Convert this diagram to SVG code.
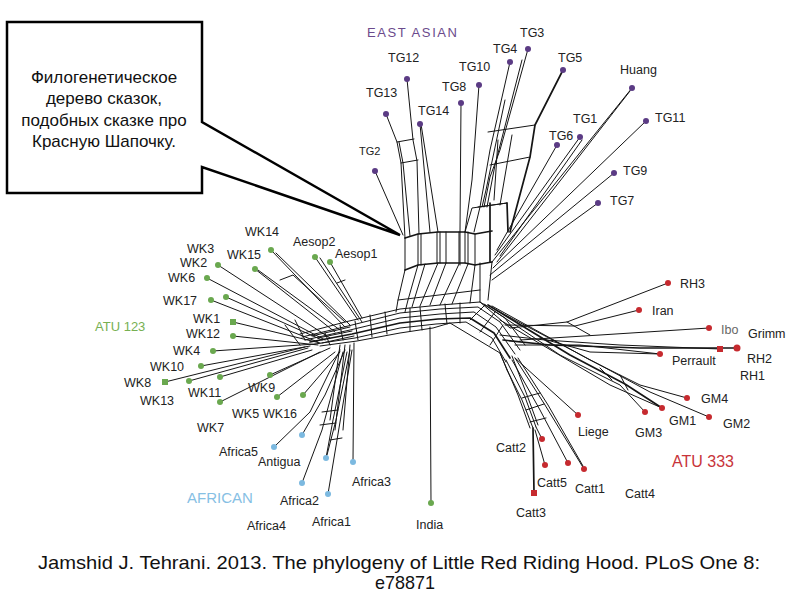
<svg xmlns="http://www.w3.org/2000/svg" width="794" height="595" viewBox="0 0 794 595">
<style>
.e{stroke:#151515;stroke-width:1;fill:none;stroke-linejoin:round;stroke-linecap:round}
.t{stroke-width:1.7}
.l{font-family:"Liberation Sans",Arial,sans-serif;font-size:12.5px;fill:#222}
.p{fill:#5b3b84}.g{fill:#6aa84f}.b{fill:#7cb9e0}.r{fill:#c62a2f}
.cap{font-family:"Liberation Sans",Arial,sans-serif;font-size:19px;fill:#111}
.co{font-family:"Liberation Sans",Arial,sans-serif;font-size:17px;fill:#111;text-anchor:middle}
</style>
<rect width="794" height="595" fill="#fff"/>
<g id="connectors">
<!-- central arch band -->
<path class="e" d="M300,334 L345,322 L400,309 L440,305 L480,302 L505,318 L525,345"/>
<path class="e" d="M302,337 L348,326 L400,313 L440,309 L478,307 L500,322 L520,350"/>
<path class="e" d="M305,340 L350,330 L400,318 L440,314 L474,312 L496,327 L515,354"/>
<path class="e t" d="M310,342 L352,334 L400,323 L438,319 L470,318 L494,333 L510,358"/>
<path class="e" d="M315,344 L355,338 L400,328 L436,324 L466,322 L492,338 L506,362"/>
<path class="e" d="M320,346 L357,341 L400,333 L433,328 L450,323 L500,353 L507,370"/>
<path class="e" d="M312,336 L350,327 M318,338 L352,331 M322,343 L354,336"/>
<path class="e" d="M370,315 L372,337 M385,312 L387,334 M410,308 L410,331 M420,307 L422,330 M445,304 L447,324 M460,303 L460,323 M485,305 L470,320 M495,312 L480,332 M503,325 L490,345 M325,333 L330,345 M340,325 L343,340 M355,321 L358,340"/>
<!-- India -->
<path class="e" d="M430,327 L431,503"/>
<!-- East Asian box -->
<path class="e t" d="M405,238 L418,234 L438,232 L465,232 L475,234 L492,231"/>
<path class="e t" d="M405,270 L418,265 L438,263 L465,263 L475,265 L492,262"/>
<path class="e" d="M405,238 L405,270 M418,234 L418,265 M421,234 L421,265 M437,232 L437,263 M440,232 L440,263 M446,232 L446,263 M459,232 L459,264 M465,232 L465,263 M468,232 L468,264 M475,234 L475,265"/>
<path class="e t" d="M490,203 L490,262 M507,203 L508,232"/>
<path class="e" d="M465,232 L472,208 L507,203 M478,207 L507,203"/>
<!-- EA upper right ladder -->
<path class="e" d="M479,85 L472,180 L468,210 L465,232"/>
<path class="e" d="M510,62 L490,150 L480,207 L474,232"/>
<path class="e" d="M528,49 L500,150 L490,177 L484,207"/>
<path class="e" d="M522,60 L495,165 L487,207"/>
<path class="e" d="M505,100 L486,190 L482,207"/>
<path class="e t" d="M563,70 L535,125 L530,157 L510,232"/>
<path class="e" d="M488,132 L535,125 M490,165 L530,157 M498,140 L494,200 M512,135 L500,205"/>
<!-- EA left arm -->
<path class="e" d="M386,114 L397,142 L401,163 L405,238"/>
<path class="e" d="M407,79 L413,140 L417,161 L419,234"/>
<path class="e" d="M399,142 L403,163 L410,236"/>
<path class="e" d="M420,124 L430,232 M421,124 L438,232"/>
<path class="e" d="M397,142 L414,139 M401,163 L418,160"/>
<path class="e" d="M375,171 L403,235"/>
<path class="e" d="M461,103 L460,232 M460,232 L460,265"/>
<!-- EA right fan -->
<path class="e" d="M557,145 L497,250"/>
<path class="e" d="M580,137 L495,255 M582,140 L500,256"/>
<path class="e" d="M632,88 L492,262 M630,91 L497,262"/>
<path class="e" d="M646,121 L493,268"/>
<path class="e" d="M614,173 L490,275"/>
<path class="e" d="M598,203 L492,280"/>
<!-- box to band -->
<path class="e" d="M405,270 L398,300 L396,312 M418,265 L408,300 L405,312 M425,264 L412,307 M438,263 L420,306 M446,263 L430,305 M459,264 L440,305 M468,264 L452,304 M475,265 L470,303 M480,263 L480,302 M492,262 L488,300 M398,300 L480,290"/>
<!-- red arm -->
<path class="e" d="M480,302 L510,328 L567,322 L668,283"/>
<path class="e" d="M505,325 L575,326 L639,310 M567,322 L590,335"/>
<path class="e" d="M500,335 L545,340 L620,345 L720,349"/>
<path class="e t" d="M503,340 L550,345 L640,348 L736,348"/>
<path class="e" d="M520,340 L600,335 L709,328"/>
<path class="e" d="M515,345 L580,345 L660,354 M540,338 L590,352 L660,354"/>
<path class="e" d="M484,304 L560,355 L620,385 L645,412"/>
<path class="e t" d="M488,305 L570,355 L625,384 L662,408"/>
<path class="e" d="M492,306 L590,360 L640,385 L687,398"/>
<path class="e" d="M496,310 L600,365 L650,392 L709,417"/>
<path class="e" d="M500,320 L610,385 L662,408 M600,368 L612,380 M620,375 L628,390"/>
<path class="e" d="M515,358 L578,415"/>
<!-- Catt -->
<path class="e" d="M500,353 L518,395 L530,428 M507,370 L522,400 L533,428 M512,356 L527,395 L538,425 M506,360 L525,397 L536,427"/>
<path class="e t" d="M533,428 L534,493"/>
<path class="e" d="M536,427 L542,439 M535,430 L545,465"/>
<path class="e" d="M512,360 L540,410 L568,463"/>
<path class="e" d="M515,358 L545,405 L584,469 M518,358 L548,405 L583,466"/>
<path class="e" d="M522,398 L540,393 M526,410 L544,404 M530,422 L546,418"/>
<!-- WK -->
<path class="e" d="M271,250 L345,327 M276,253 L350,325"/>
<path class="e" d="M255,269 L335,332 M258,270 L340,330 M280,280 L293,275 L345,322"/>
<path class="e" d="M315,257 L358,320 M320,258 L362,322 M330,262 L362,318 M337,283 L345,280"/>
<path class="e" d="M218,265 L330,338 M207,278 L325,340 M226,297 L322,340 M211,300 L318,342 M233,322 L320,343 M233,336 L318,345 M213,351 L315,344 M201,366 L310,346 M165,382 L305,347 M189,381 L308,348 M220,377 L312,350 M220,402 L320,352 M270,375 L330,348 M277,397 L335,352 M303,395 L340,352"/>
<path class="e" d="M285,325 L300,345 M295,320 L305,340"/>
<!-- African -->
<path class="e" d="M274,447 L310,412 L340,350 M302,435 L325,395 L345,350 M326,458 L333,420 L347,352 M327,455 L336,420 L350,350 M353,462 L354,343 M302,483 L322,430 L343,352 M328,494 L337,440 L352,350"/>
<path class="e" d="M322,412 L338,410 M320,425 L336,423 M330,440 L342,438 M340,345 L330,420 M345,345 L335,430 M350,345 L343,430"/>
</g>
<g id="callout">
<path d="M202,122 L202,22 L7,22 L7,193 L202,193 L202,167 L400,235 Z" fill="#fff" stroke="#000" stroke-width="2.5" stroke-linejoin="miter"/>
<text class="co" x="104" y="83">Филогенетическое</text>
<text class="co" x="104" y="104">дерево сказок,</text>
<text class="co" x="104" y="126">подобных сказке про</text>
<text class="co" x="104" y="147">Красную Шапочку.</text>
</g>
<g id="groups">
<text class="l" x="367" y="37" style="fill:#6b4a8c;font-size:13px" textLength="90">EAST ASIAN</text>
<text class="l" x="95" y="331" style="fill:#77b052;font-size:13px">ATU 123</text>
<text class="l" x="187" y="503" style="fill:#86c0e4;font-size:15px">AFRICAN</text>
<text class="l" x="672" y="467" style="fill:#c8343a;font-size:16px">ATU 333</text>
</g>
<g id="TG3"><circle class="p" cx="528" cy="49" r="3"/><text class="l" x="520" y="37">TG3</text></g>
<g id="TG4"><circle class="p" cx="510" cy="62" r="3"/><text class="l" x="493" y="53">TG4</text></g>
<g id="TG5"><circle class="p" cx="563" cy="70" r="3"/><text class="l" x="558" y="62">TG5</text></g>
<g id="TG10"><circle class="p" cx="479" cy="85" r="3"/><text class="l" x="459" y="71">TG10</text></g>
<g id="TG12"><circle class="p" cx="407" cy="79" r="3"/><text class="l" x="388" y="62">TG12</text></g>
<g id="TG8"><circle class="p" cx="461" cy="103" r="3"/><text class="l" x="442" y="91">TG8</text></g>
<g id="TG13"><circle class="p" cx="386" cy="114" r="3"/><text class="l" x="366" y="97">TG13</text></g>
<g id="TG14"><circle class="p" cx="420" cy="124" r="3"/><text class="l" x="418" y="115">TG14</text></g>
<g id="TG2"><circle class="p" cx="375" cy="171" r="3"/><text class="l" x="359" y="155" style="font-size:11px">TG2</text></g>
<g id="TG6"><circle class="p" cx="557" cy="145" r="3"/><text class="l" x="549" y="140">TG6</text></g>
<g id="TG1"><circle class="p" cx="580" cy="137" r="3"/><text class="l" x="573" y="123">TG1</text></g>
<g id="Huang"><circle class="p" cx="632" cy="88" r="3"/><text class="l" x="620" y="74">Huang</text></g>
<g id="TG11"><circle class="p" cx="646" cy="121" r="3"/><text class="l" x="655" y="122">TG11</text></g>
<g id="TG9"><circle class="p" cx="614" cy="173" r="3"/><text class="l" x="623" y="175">TG9</text></g>
<g id="TG7"><circle class="p" cx="598" cy="203" r="3"/><text class="l" x="610" y="205">TG7</text></g>
<g id="WK14"><circle class="g" cx="271" cy="250" r="3"/><text class="l" x="245" y="236">WK14</text></g>
<g id="WK3"><text class="l" x="187" y="253">WK3</text></g>
<g id="WK15"><circle class="g" cx="255" cy="269" r="3"/><text class="l" x="227" y="259">WK15</text></g>
<g id="Aesop2"><circle class="g" cx="315" cy="257" r="3"/><text class="l" x="293" y="246">Aesop2</text></g>
<g id="Aesop1"><circle class="g" cx="330" cy="262" r="3"/><text class="l" x="335" y="258">Aesop1</text></g>
<g id="WK2"><circle class="g" cx="218" cy="265" r="3"/><text class="l" x="180" y="267">WK2</text></g>
<g id="WK6"><circle class="g" cx="207" cy="278" r="3"/><text class="l" x="168" y="282">WK6</text></g>
<g id="WK17"><circle class="g" cx="211" cy="300" r="3"/><circle class="g" cx="226" cy="297" r="3"/><text class="l" x="163" y="305">WK17</text></g>
<g id="WK1"><rect class="g" x="230" y="319" width="6" height="6"/><text class="l" x="193" y="323">WK1</text></g>
<g id="WK12"><circle class="g" cx="233" cy="336" r="3"/><text class="l" x="186" y="338">WK12</text></g>
<g id="WK4"><circle class="g" cx="213" cy="351" r="3"/><text class="l" x="173" y="355">WK4</text></g>
<g id="WK10"><circle class="g" cx="201" cy="366" r="3"/><text class="l" x="150" y="371">WK10</text></g>
<g id="WK8"><rect class="g" x="162" y="379" width="6" height="6"/><text class="l" x="124" y="387">WK8</text></g>
<g id="WK13"><circle class="g" cx="189" cy="381" r="3"/><text class="l" x="140" y="405">WK13</text></g>
<g id="WK11"><circle class="g" cx="220" cy="377" r="3"/><circle class="g" cx="220" cy="402" r="3"/><text class="l" x="188" y="397">WK11</text></g>
<g id="WK9"><circle class="g" cx="270" cy="375" r="3"/><text class="l" x="248" y="392">WK9</text></g>
<g id="WK5"><circle class="g" cx="277" cy="397" r="3"/><text class="l" x="232" y="418">WK5</text></g>
<g id="WK16"><circle class="g" cx="303" cy="395" r="3"/><text class="l" x="263" y="418">WK16</text></g>
<g id="WK7"><text class="l" x="197" y="432">WK7</text></g>
<g id="India"><circle class="g" cx="431" cy="503" r="3"/><text class="l" x="416" y="529">India</text></g>
<g id="Africa5"><circle class="b" cx="274" cy="447" r="3"/><text class="l" x="219" y="456">Africa5</text></g>
<g id="Antigua"><circle class="b" cx="302" cy="435" r="3"/><text class="l" x="258" y="466">Antigua</text></g>
<g id="Africa3"><circle class="b" cx="326" cy="458" r="3"/><circle class="b" cx="353" cy="462" r="3"/><text class="l" x="352" y="486">Africa3</text></g>
<g id="Africa2"><circle class="b" cx="302" cy="483" r="3"/><text class="l" x="280" y="505">Africa2</text></g>
<g id="Africa1"><circle class="b" cx="328" cy="494" r="3"/><text class="l" x="312" y="526">Africa1</text></g>
<g id="Africa4"><text class="l" x="247" y="530">Africa4</text></g>
<g id="RH3"><circle class="r" cx="668" cy="283" r="3"/><text class="l" x="680" y="288">RH3</text></g>
<g id="Iran"><circle class="r" cx="639" cy="310" r="3"/><text class="l" x="652" y="315">Iran</text></g>
<g id="Ibo"><circle class="r" cx="709" cy="328" r="3"/><text class="l" x="721" y="334" style="fill:#666">Ibo</text></g>
<g id="Grimm"><text class="l" x="748" y="338">Grimm</text></g>
<g id="RH2"><rect class="r" x="717" y="346" width="6" height="6"/><text class="l" x="747" y="363">RH2</text></g>
<g id="RH1"><circle class="r" cx="737" cy="348" r="3.5"/><text class="l" x="740" y="380">RH1</text></g>
<g id="Perrault"><circle class="r" cx="660" cy="354" r="3"/><text class="l" x="672" y="365">Perrault</text></g>
<g id="GM4"><circle class="r" cx="687" cy="398" r="3"/><text class="l" x="701" y="403">GM4</text></g>
<g id="GM1"><circle class="r" cx="662" cy="408" r="3"/><text class="l" x="669" y="425">GM1</text></g>
<g id="GM2"><circle class="r" cx="709" cy="417" r="3"/><text class="l" x="723" y="428">GM2</text></g>
<g id="GM3"><circle class="r" cx="645" cy="412" r="3"/><text class="l" x="635" y="437">GM3</text></g>
<g id="Liege"><circle class="r" cx="578" cy="415" r="3"/><text class="l" x="578" y="436">Liege</text></g>
<g id="Catt2"><circle class="r" cx="542" cy="439" r="3"/><text class="l" x="496" y="452">Catt2</text></g>
<g id="Catt5"><circle class="r" cx="545" cy="465" r="3"/><text class="l" x="537" y="487">Catt5</text></g>
<g id="Catt1"><circle class="r" cx="568" cy="463" r="3"/><circle class="r" cx="584" cy="469" r="3"/><text class="l" x="575" y="493">Catt1</text></g>
<g id="Catt4"><text class="l" x="625" y="498">Catt4</text></g>
<g id="Catt3"><rect class="r" x="531" y="490" width="6" height="6"/><text class="l" x="516" y="517">Catt3</text></g>
<g id="caption">
<text class="cap" x="38" y="569" textLength="722" lengthAdjust="spacingAndGlyphs">Jamshid J. Tehrani. 2013. The phylogeny of Little Red Riding Hood. PLoS One 8:</text>
<text class="cap" x="375" y="589" textLength="60" lengthAdjust="spacingAndGlyphs">e78871</text>
</g>
</svg>
